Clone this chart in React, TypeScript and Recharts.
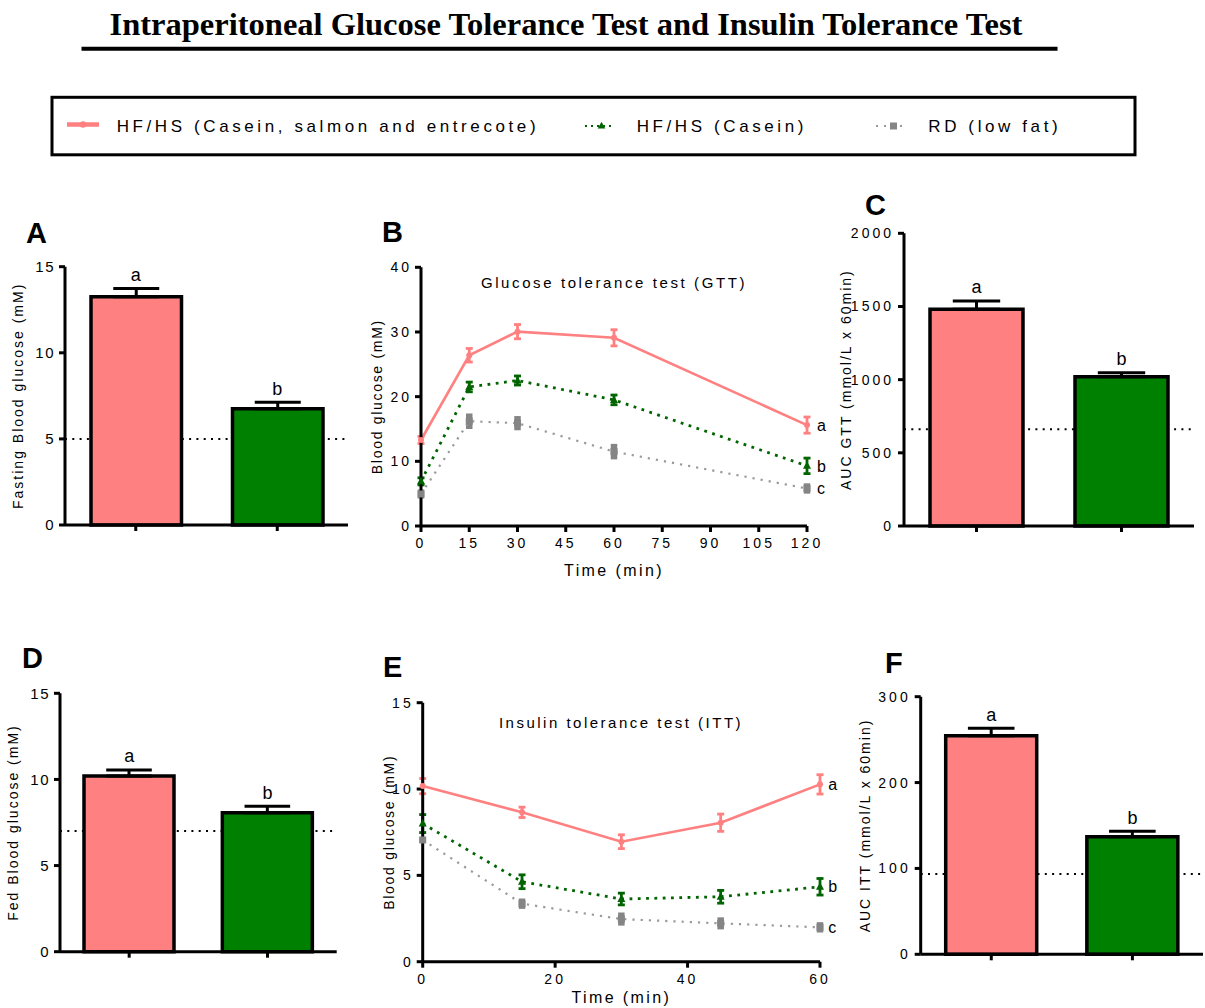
import React from 'react';
import {
  BarChart,
  Bar,
  Cell,
  XAxis,
  YAxis,
  ErrorBar,
  ReferenceLine,
  ReferenceDot,
  LineChart,
  Line,
} from 'recharts';

const FONT = '"Liberation Sans", Arial, sans-serif';
const PINK = '#FF8080';
const GREEN_BAR = '#008000';
const GREEN_LINE = '#006400';
const GREY = '#858585';
const GREY_LINE = '#9A9A9A';

// ---------- data ----------
const groups = ['HF/HS (Casein, salmon and entrecote)', 'HF/HS (Casein)', 'RD (low fat)'];
const barGroups = [groups[0], groups[1]];
const barLetters = ['a', 'b'];

// A: fasting blood glucose (mM)
const fastingMean = [13.25, 6.75];
const fastingSem = [0.48, 0.38];
const fastingRD = 5;

// C: AUC GTT
const aucGttMean = [1481, 1020];
const aucGttSem = [57, 28];
const aucGttRD = 661;

// D: fed blood glucose (mM)
const fedMean = [10.2, 8.07];
const fedSem = [0.35, 0.38];
const fedRD = 7.0;

// F: AUC ITT
const aucIttMean = [254.6, 137];
const aucIttSem = [8.6, 6.2];
const aucIttRD = 93.5;

// B: GTT time course
const gttTime = [0, 15, 30, 60, 120];
const gttCSE = [13.3, 26.4, 30.05, 29.1, 15.6];
const gttCSEErr = [0.55, 1.05, 1.1, 1.25, 1.25];
const gttCas = [6.9, 21.5, 22.5, 19.5, 9.3];
const gttCasErr = [0.55, 0.75, 0.7, 0.75, 1.2];
const gttRD = [4.95, 16.2, 15.9, 11.5, 5.8];
const gttRDErr = [0.7, 1.2, 1.1, 1.2, 0.8];
const gttXTicks = [0, 15, 30, 45, 60, 75, 90, 105, 120];
const gttYTicks = [0, 10, 20, 30, 40];

// E: ITT time course
const ittTime = [0, 15, 30, 45, 60];
const ittCSE = [10.17, 8.65, 6.95, 8.05, 10.27];
const ittCSEErr = [0.44, 0.3, 0.4, 0.5, 0.56];
const ittCas = [8.0, 4.63, 3.63, 3.76, 4.34];
const ittCasErr = [0.52, 0.4, 0.34, 0.37, 0.48];
const ittRD = [7.05, 3.36, 2.47, 2.22, 1.99];
const ittRDErr = [0.15, 0.3, 0.38, 0.35, 0.3];
const ittXTicks = [0, 20, 40, 60];
const ittYTicks = [0, 5, 10, 15];
const lineLetters = ['a', 'b', 'c'];

// ---------- helpers ----------
const yLabel = (text: string, x: number, fallbackCy: number, ls: number) => (props: any) => {
  const vb = props && props.viewBox;
  const cy = vb && typeof vb.y === 'number' ? vb.y + vb.height / 2 : fallbackCy;
  return (
    <text
      x={x}
      y={cy}
      transform={`rotate(-90, ${x}, ${cy})`}
      textAnchor="middle"
      fontSize={14}
      letterSpacing={ls}
      fontFamily={FONT}
      fill="#000"
    >
      {text}
    </text>
  );
};

const xLabel = (text: string, dy: number, fallbackX: number, fallbackY: number) => (props: any) => {
  const vb = props && props.viewBox;
  const cx = vb && typeof vb.x === 'number' ? vb.x + vb.width / 2 : fallbackX;
  const y = vb && typeof vb.y === 'number' ? vb.y + dy : fallbackY;
  return (
    <text x={cx} y={y} textAnchor="middle" fontSize={16} letterSpacing={2.4} fontFamily={FONT} fill="#000">
      {text}
    </text>
  );
};

const axisLine = { stroke: '#000', strokeWidth: 3 };
const tickLine = { stroke: '#000', strokeWidth: 3 };

type BarPanelProps = {
  left: number;
  top: number;
  width: number;
  height: number;
  margin: { top: number; right: number; bottom: number; left: number };
  yAxisWidth: number;
  xAxisHeight: number;
  domain: [number, number];
  ticks: number[];
  means: number[];
  sems: number[];
  refValue: number;
  barSize: number;
  capHalf: number;
  label: string;
  labelX: number;
  tickFont: number;
  tickLs: number;
};

function BarPanel(p: BarPanelProps) {
  const data = barGroups.map((name, i) => ({
    name,
    mean: p.means[i],
    err: [0, p.sems[i]],
    top: p.means[i] + p.sems[i],
  }));
  const fallbackCy = p.margin.top + (p.height - p.margin.top - p.xAxisHeight) / 2;
  return (
    <div style={{ position: 'absolute', left: p.left, top: p.top }}>
      <BarChart width={p.width} height={p.height} data={data} margin={p.margin}>
        <ReferenceLine
          y={p.refValue}
          stroke="#000"
          strokeWidth={2}
          strokeDasharray="2 5.3"
          zIndex={-10}
        />
        <XAxis
          dataKey="name"
          type="category"
          height={p.xAxisHeight}
          interval={0}
          tickFormatter={() => ''}
          axisLine={axisLine}
          tickLine={tickLine}
          tickSize={6}
        />
        <YAxis
          type="number"
          domain={p.domain}
          ticks={p.ticks}
          interval={0}
          width={p.yAxisWidth}
          axisLine={axisLine}
          tickLine={tickLine}
          tickSize={6}
          tickMargin={4}
          tick={{ fill: '#000', fontSize: p.tickFont, fontFamily: FONT, letterSpacing: p.tickLs }}
          label={yLabel(p.label, p.labelX, fallbackCy, 2)}
        />
        <Bar dataKey="mean" barSize={p.barSize} stroke="#000" strokeWidth={3.5} isAnimationActive={false}>
          {data.map((d, i) => (
            <Cell key={d.name} fill={i === 0 ? PINK : GREEN_BAR} />
          ))}
          <ErrorBar
            dataKey="err"
            direction="y"
            width={p.capHalf}
            stroke="#000"
            strokeWidth={3}
            isAnimationActive={false}
          />
        </Bar>
        {data.map((d, i) => (
          <ReferenceDot
            key={'l' + i}
            x={d.name}
            y={d.top}
            r={0.5}
            fill="none"
            stroke="none"
            label={{
              value: barLetters[i],
              position: 'top',
              offset: 7,
              fill: '#000',
              fontSize: 18,
              fontFamily: FONT,
            }}
          />
        ))}
      </BarChart>
    </div>
  );
}

const circleDot = (color: string) => (props: any) => {
  const { cx, cy, index } = props;
  if (cx == null || cy == null) return <g key={'c' + index} />;
  return <circle key={'c' + index} cx={cx} cy={cy} r={3} fill={color} stroke="none" />;
};
const triangleDot = (color: string) => (props: any) => {
  const { cx, cy, index } = props;
  if (cx == null || cy == null) return <g key={'t' + index} />;
  return (
    <path
      key={'t' + index}
      d={`M${cx},${cy - 4.5} L${cx + 4},${cy + 3} L${cx - 4},${cy + 3} Z`}
      fill={color}
      stroke="none"
    />
  );
};
const squareDot = (color: string) => (props: any) => {
  const { cx, cy, index } = props;
  if (cx == null || cy == null) return <g key={'s' + index} />;
  return <rect key={'s' + index} x={cx - 3.5} y={cy - 3.5} width={7} height={7} fill={color} stroke="none" />;
};

type LinePanelProps = {
  left: number;
  top: number;
  width: number;
  height: number;
  margin: { top: number; right: number; bottom: number; left: number };
  yAxisWidth: number;
  xAxisHeight: number;
  time: number[];
  cse: number[];
  cseErr: number[];
  cas: number[];
  casErr: number[];
  rd: number[];
  rdErr: number[];
  xDomain: [number, number];
  xTicks: number[];
  yDomain: [number, number];
  yTicks: number[];
  labelX: number;
  xLabelDy: number;
  letterOffset: number;
};

function LinePanel(p: LinePanelProps) {
  const data = p.time.map((t, i) => ({
    t,
    cse: p.cse[i],
    cseErr: p.cseErr[i],
    cas: p.cas[i],
    casErr: p.casErr[i],
    rd: p.rd[i],
    rdErr: p.rdErr[i],
  }));
  const last = data.length - 1;
  const lastT = p.time[last];
  const lastVals = [p.cse[last], p.cas[last], p.rd[last]];
  const plotH = p.height - p.margin.top - p.xAxisHeight;
  const fallbackCy = p.margin.top + plotH / 2;
  const plotLeft = p.margin.left + p.yAxisWidth;
  const plotW = p.width - plotLeft - p.margin.right;
  return (
    <div style={{ position: 'absolute', left: p.left, top: p.top }}>
      <LineChart width={p.width} height={p.height} data={data} margin={p.margin}>
        <XAxis
          dataKey="t"
          type="number"
          domain={p.xDomain}
          ticks={p.xTicks}
          interval={0}
          height={p.xAxisHeight}
          axisLine={axisLine}
          tickLine={tickLine}
          tickSize={6}
          tickMargin={6}
          tick={{ fill: '#000', fontSize: 14, fontFamily: FONT, letterSpacing: 3 }}
          label={xLabel('Time (min)', p.xLabelDy, plotLeft + plotW / 2, p.margin.top + plotH + p.xLabelDy)}
        />
        <YAxis
          type="number"
          domain={p.yDomain}
          ticks={p.yTicks}
          interval={0}
          width={p.yAxisWidth}
          axisLine={axisLine}
          tickLine={tickLine}
          tickSize={6}
          tickMargin={3}
          tick={{ fill: '#000', fontSize: 14, fontFamily: FONT, letterSpacing: 3 }}
          label={yLabel('Blood glucose (mM)', p.labelX, fallbackCy, 1.7)}
        />
        <Line
          dataKey="cse"
          name={groups[0]}
          stroke={PINK}
          strokeWidth={2.6}
          dot={circleDot(PINK)}
          activeDot={false}
          isAnimationActive={false}
        >
          <ErrorBar dataKey="cseErr" direction="y" width={3.5} stroke={PINK} strokeWidth={2.8} isAnimationActive={false} />
        </Line>
        <Line
          dataKey="cas"
          name={groups[1]}
          stroke={GREEN_LINE}
          strokeWidth={2.8}
          strokeDasharray="2.8 5.5"
          dot={triangleDot(GREEN_LINE)}
          activeDot={false}
          isAnimationActive={false}
        >
          <ErrorBar dataKey="casErr" direction="y" width={3.5} stroke={GREEN_LINE} strokeWidth={2.8} isAnimationActive={false} />
        </Line>
        <Line
          dataKey="rd"
          name={groups[2]}
          stroke={GREY_LINE}
          strokeWidth={2.2}
          strokeDasharray="2.2 6"
          dot={squareDot(GREY)}
          activeDot={false}
          isAnimationActive={false}
        >
          <ErrorBar dataKey="rdErr" direction="y" width={0} stroke={GREY} strokeWidth={6.5} isAnimationActive={false} />
        </Line>
        {lastVals.map((v, i) => (
          <ReferenceDot
            key={'ll' + i}
            x={lastT}
            y={v}
            r={0.5}
            fill="none"
            stroke="none"
            label={{
              value: lineLetters[i],
              position: 'right',
              offset: p.letterOffset,
              fill: '#000',
              fontSize: 16,
              fontFamily: FONT,
            }}
          />
        ))}
      </LineChart>
    </div>
  );
}

const panelLetter = (ch: string, x: number, y: number) => (
  <text key={ch} x={x} y={y} fontFamily={FONT} fontWeight="bold" fontSize={29} fill="#000">
    {ch}
  </text>
);

export default function App() {
  return (
    <div
      style={{
        position: 'absolute',
        left: 0,
        top: 0,
        width: 1205,
        height: 1008,
        background: '#fff',
        overflow: 'hidden',
      }}
    >
      <svg width={1205} height={1008} style={{ position: 'absolute', left: 0, top: 0 }}>
        <text
          x={566}
          y={35}
          textAnchor="middle"
          fontFamily='"Liberation Serif", "Times New Roman", serif'
          fontWeight="bold"
          fontSize={32.5}
          fill="#000"
        >
          Intraperitoneal Glucose Tolerance Test and Insulin Tolerance Test
        </text>
        <line x1={81.5} x2={1057.5} y1={48.8} y2={48.8} stroke="#000" strokeWidth={4} />

        {/* legend */}
        <rect x={52} y={97.3} width={1083} height={57.5} fill="none" stroke="#000" strokeWidth={3} />
        <line x1={67} x2={99} y1={124.5} y2={124.5} stroke={PINK} strokeWidth={4.5} />
        <circle cx={83} cy={124.5} r={3.2} fill={PINK} />
        <text x={116.7} y={132.3} fontFamily={FONT} fontSize={17} letterSpacing={3.6} fill="#000">
          {groups[0]}
        </text>
        <line x1={585} x2={612} y1={126} y2={126} stroke={GREEN_LINE} strokeWidth={2} strokeDasharray="2 4" />
        <path d="M601.5,121.8 L605.3,128.5 L597.7,128.5 Z" fill={GREEN_LINE} />
        <text x={636.7} y={132.3} fontFamily={FONT} fontSize={17} letterSpacing={3.6} fill="#000">
          {groups[1]}
        </text>
        <line x1={876} x2={907} y1={126} y2={126} stroke={GREY_LINE} strokeWidth={2} strokeDasharray="2 6" />
        <rect x={890} y={122.5} width={7} height={7} fill={GREY} />
        <text x={928.3} y={132.3} fontFamily={FONT} fontSize={17} letterSpacing={3.6} fill="#000">
          {groups[2]}
        </text>

        {/* panel letters */}
        {panelLetter('A', 26, 242.7)}
        {panelLetter('B', 382, 242)}
        {panelLetter('C', 865, 215)}
        {panelLetter('D', 22, 668)}
        {panelLetter('E', 383, 677)}
        {panelLetter('F', 885, 673)}

        {/* panel titles */}
        <text x={614} y={287.7} textAnchor="middle" fontFamily={FONT} fontSize={15} letterSpacing={2.6} fill="#000">
          Glucose tolerance test (GTT)
        </text>
        <text x={621} y={728.3} textAnchor="middle" fontFamily={FONT} fontSize={15} letterSpacing={2.5} fill="#000">
          Insulin tolerance test (ITT)
        </text>
      </svg>

      {/* A */}
      <BarPanel
        left={0}
        top={250}
        width={355}
        height={290}
        margin={{ top: 16.7, right: 7, bottom: 0, left: 20 }}
        yAxisWidth={45}
        xAxisHeight={15}
        domain={[0, 15]}
        ticks={[0, 5, 10, 15]}
        means={fastingMean}
        sems={fastingSem}
        refValue={fastingRD}
        barSize={90.5}
        capHalf={23}
        label="Fasting Blood glucose (mM)"
        labelX={23}
        tickFont={15}
        tickLs={1.5}
      />

      {/* B */}
      <LinePanel
        left={360}
        top={255}
        width={480}
        height={330}
        margin={{ top: 12.3, right: 33, bottom: 0, left: 21 }}
        yAxisWidth={40}
        xAxisHeight={59}
        time={gttTime}
        cse={gttCSE}
        cseErr={gttCSEErr}
        cas={gttCas}
        casErr={gttCasErr}
        rd={gttRD}
        rdErr={gttRDErr}
        xDomain={[0, 120]}
        xTicks={gttXTicks}
        yDomain={[0, 40]}
        yTicks={gttYTicks}
        labelX={21.7}
        xLabelDy={50}
        letterOffset={9.5}
      />

      {/* C */}
      <BarPanel
        left={835}
        top={220}
        width={370}
        height={330}
        margin={{ top: 13.3, right: 11, bottom: 0, left: 19 }}
        yAxisWidth={50}
        xAxisHeight={24}
        domain={[0, 2000]}
        ticks={[0, 500, 1000, 1500, 2000]}
        means={aucGttMean}
        sems={aucGttSem}
        refValue={aucGttRD}
        barSize={93}
        capHalf={23.7}
        label="AUC GTT (mmol/L x 60min)"
        labelX={16}
        tickFont={14}
        tickLs={3}
      />

      {/* D */}
      <BarPanel
        left={0}
        top={680}
        width={345}
        height={290}
        margin={{ top: 13.3, right: 8.3, bottom: 0, left: 15 }}
        yAxisWidth={45}
        xAxisHeight={18.3}
        domain={[0, 15]}
        ticks={[0, 5, 10, 15]}
        means={fedMean}
        sems={fedSem}
        refValue={fedRD}
        barSize={90}
        capHalf={22.8}
        label="Fed Blood glucose (mM)"
        labelX={18}
        tickFont={15}
        tickLs={1.5}
      />

      {/* E */}
      <LinePanel
        left={370}
        top={690}
        width={470}
        height={318}
        margin={{ top: 12.7, right: 20, bottom: 0, left: 12.7 }}
        yAxisWidth={40}
        xAxisHeight={46.3}
        time={ittTime}
        cse={ittCSE}
        cseErr={ittCSEErr}
        cas={ittCas}
        casErr={ittCasErr}
        rd={ittRD}
        rdErr={ittRDErr}
        xDomain={[0, 60]}
        xTicks={ittXTicks}
        yDomain={[0, 15]}
        yTicks={ittYTicks}
        labelX={24}
        xLabelDy={41.6}
        letterOffset={7.7}
      />

      {/* F */}
      <BarPanel
        left={850}
        top={685}
        width={355}
        height={290}
        margin={{ top: 11.7, right: 2, bottom: 0, left: 20.7 }}
        yAxisWidth={50}
        xAxisHeight={20.7}
        domain={[0, 300]}
        ticks={[0, 100, 200, 300]}
        means={aucIttMean}
        sems={aucIttSem}
        refValue={aucIttRD}
        barSize={91}
        capHalf={23.3}
        label="AUC ITT (mmol/L x 60min)"
        labelX={20}
        tickFont={14}
        tickLs={3}
      />
    </div>
  );
}
